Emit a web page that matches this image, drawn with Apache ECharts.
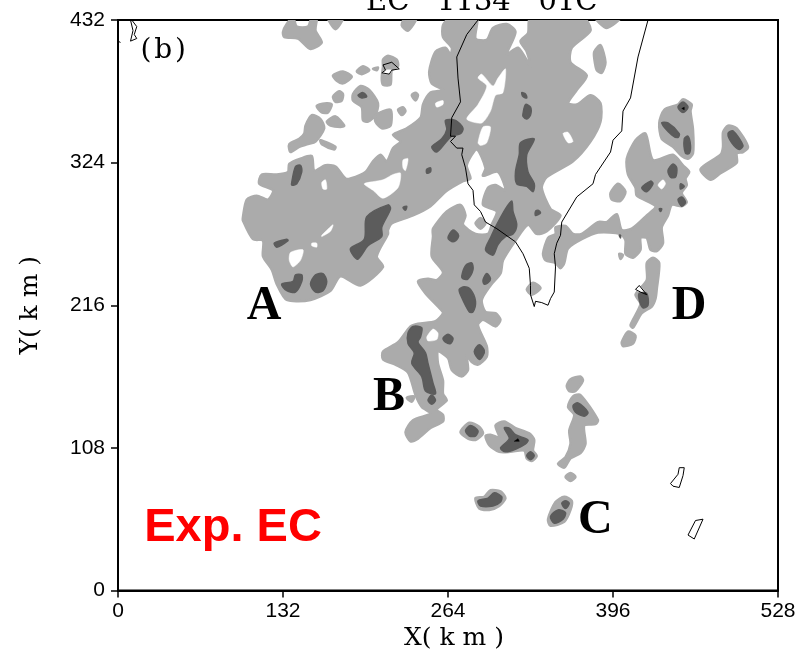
<!DOCTYPE html>
<html><head><meta charset="utf-8">
<style>html,body{margin:0;padding:0;background:#fff}#c{width:802px;height:654px}</style>
<script src="https://cdn.jsdelivr.net/npm/echarts@6/dist/echarts.min.js"></script>
</head><body><div id="c"></div>
<script>
const xTicks = [0,132,264,396,528];
const yTicks = [0,108,216,324,432];

// Rain-area contours, [x km, y km]
const lightAreas = [
 [[100,283],[103,296],[111,299],[120,296],[124,303],[113,308],[115,315],[127,315],[136,317],[137,323],[146,327],[155,329],[157,318],[166,322],[174,321],[182,312],[186,312],[198,317],[204,325],[210,330],[215,325],[220,335],[226,340],[220,345],[231,350],[242,358],[244,368],[250,377],[260,379],[251,384],[249,393],[254,408],[262,411],[266,406],[267,411],[260,419],[260,428],[266,434],[287,434],[286,418],[295,417],[300,426],[311,429],[318,423],[311,406],[320,411],[330,397],[327,408],[322,416],[328,422],[330,434],[372,434],[378,424],[363,411],[362,400],[375,390],[367,379],[360,369],[367,368],[378,375],[386,369],[386,355],[378,340],[364,325],[343,313],[339,305],[346,289],[354,284],[343,272],[335,270],[328,277],[318,265],[308,250],[306,240],[298,231],[291,220],[294,211],[302,210],[306,205],[302,200],[292,205],[288,201],[295,185],[295,177],[288,171],[283,173],[279,178],[280,167],[275,162],[267,167],[264,176],[256,181],[256,172],[260,159],[260,149],[263,144],[255,137],[260,133],[260,128],[250,123],[240,115],[234,113],[230,120],[236,129],[250,134],[243,139],[238,148],[232,165],[222,171],[212,175],[212,181],[224,188],[234,200],[240,202],[254,204],[260,210],[258,213],[246,225],[240,234],[248,236],[255,235],[260,241],[251,253],[252,268],[252,274],[263,287],[274,292],[278,284],[276,277],[286,270],[296,270],[299,277],[303,287],[292,292],[296,305],[302,307],[310,303],[304,317],[292,314],[294,320],[287,334],[279,322],[282,312],[276,310],[262,302],[250,291],[236,284],[219,278],[216,273],[216,270],[207,253],[212,245],[194,231],[178,238],[170,227],[154,220],[135,220],[127,232],[123,243],[116,253],[116,265],[108,266],[100,280]],
 [[286,278],[290,282],[294,278],[290,274]],
 [[231,146],[237,147],[235,143]],
 [[132,423],[135,429],[140,434],[143,427],[152,427],[155,434],[159,434],[158,424],[163,415],[154,410],[144,418],[133,419]],
 [[168,434],[180,434],[174,425]],
 [[172,390],[180,393],[187,389],[180,384],[175,386]],
 [[191,393],[196,397],[201,394],[195,391]],
 [[204,395],[208,396],[207,394]],
 [[212,402],[216,405],[223,402],[224,397],[219,394],[218,383],[212,383],[211,388],[212,397]],
 [[172,374],[177,378],[180,376],[179,371],[174,370]],
 [[188,376],[194,382],[201,379],[208,369],[206,360],[200,355],[196,356],[195,366],[188,371]],
 [[159,367],[167,369],[171,368],[168,362],[163,362]],
 [[167,355],[174,359],[181,352],[178,351],[170,352]],
 [[206,360],[218,364],[218,352],[211,350],[206,355]],
 [[224,364],[228,366],[230,363],[227,360]],
 [[235,375],[238,377],[240,375],[238,371]],
 [[150,352],[155,360],[162,357],[165,350],[158,340],[152,338],[145,336],[138,332],[137,338],[145,342],[149,346]],
 [[162,341],[174,336],[173,334],[163,338]],
 [[227,428],[230,434],[239,434],[232,424]],
 [[381,408],[386,413],[390,400],[387,392],[383,394],[381,403]],
 [[382,434],[402,434],[391,426]],
 [[340,255],[344,267],[350,270],[350,275],[358,276],[364,270],[371,270],[384,279],[391,279],[399,285],[403,273],[411,274],[423,284],[430,291],[415,299],[414,305],[408,315],[407,327],[414,341],[422,346],[428,326],[444,330],[452,322],[457,317],[454,312],[455,307],[451,301],[455,294],[451,291],[443,292],[440,284],[435,275],[436,263],[431,257],[426,258],[423,267],[418,267],[418,258],[412,252],[406,255],[406,265],[402,270],[384,271],[371,266],[360,259],[357,248],[354,244],[350,248],[342,250]],
 [[433,354],[437,364],[448,368],[452,372],[459,368],[458,363],[460,349],[460,331],[456,327],[451,329],[444,336],[435,342]],
 [[484,347],[488,352],[495,350],[504,336],[500,332],[495,331],[495,324],[482,316],[474,311],[466,319],[482,330],[484,336]],
 [[394,301],[400,308],[406,302],[402,295],[395,296]],
 [[401,255],[404,254],[402,251]],
 [[423,248],[428,252],[433,248],[431,228],[430,221],[427,215],[419,210],[412,199],[410,201],[418,217],[414,224],[423,235]],
 [[403,188],[408,196],[414,193],[412,187],[404,185]],
 [[327,228],[332,233],[338,229],[331,224]],
 [[274,120],[281,127],[289,124],[292,119],[286,114],[280,115]],
 [[294,117],[298,118],[305,116],[302,125],[309,128],[318,123],[329,119],[333,114],[332,106],[335,102],[331,98],[327,100],[325,106],[314,105],[305,105],[297,110]],
 [[286,70],[293,71],[298,76],[306,75],[310,70],[305,64],[297,61],[289,62]],
 [[344,54],[350,67],[357,71],[363,68],[362,61],[357,52],[346,49]],
 [[358,86],[362,89],[366,86],[362,83]],
 [[352,96],[358,101],[362,111],[361,121],[365,133],[360,139],[364,147],[370,148],[384,129],[382,126],[373,125],[374,111],[370,104],[362,100],[357,93]],
 [[359,155],[362,160],[370,162],[372,159],[366,151],[361,151]]
];
const clearGaps = [
 [[279,357],[288,368],[295,382],[288,388],[291,391],[300,382],[304,388],[310,395],[308,377],[302,375],[298,363],[291,354]],
 [[288,339],[292,351],[298,351],[295,339],[290,337]],
 [[356,346],[360,347],[364,340],[360,339]],
 [[254,369],[260,371],[260,368],[255,366]],
 [[197,308],[212,311],[220,315],[226,316],[224,305],[212,297],[204,303]],
 [[228,326],[232,327],[230,318],[228,320]],
 [[163,269],[172,277],[170,272],[163,268]],
 [[138,256],[148,258],[146,250],[140,245],[137,250]],
 [[155,263],[159,263],[159,260],[155,261]],
 [[163,309],[166,311],[167,304],[164,304]],
 [[247,192],[252,198],[256,195],[255,190],[248,189]],
 [[432,307],[436,311],[438,308],[435,304]],
 [[214,394],[219,394],[217,391],[211,392]],
 [[414,228],[417,231],[421,226],[418,226]]
];
const darkCores = [
 [[139,309],[142,321],[146,322],[147,317],[143,308],[139,307]],
 [[186,259],[197,266],[199,283],[216,292],[218,289],[211,275],[211,268],[200,261],[192,251],[188,254]],
 [[125,263],[135,266],[136,265],[127,260]],
 [[131,232],[140,234],[142,239],[147,239],[147,234],[142,226],[135,227]],
 [[154,232],[158,239],[164,240],[167,234],[164,227],[158,226]],
 [[192,375],[196,377],[199,374],[195,373]],
 [[251,336],[259,342],[263,349],[262,356],[270,356],[276,350],[274,346],[267,344],[262,339],[255,332]],
 [[247,319],[250,320],[250,317],[247,316]],
 [[324,361],[326,368],[330,366],[330,360],[327,357],[324,359]],
 [[323,377],[326,376],[327,373],[324,374]],
 [[322,339],[333,342],[327,330],[328,317],[333,308],[332,302],[327,306],[319,308],[318,317],[321,330]],
 [[310,289],[315,295],[316,287],[319,277],[316,270],[310,268],[304,262],[300,254],[294,258],[298,267],[303,277]],
 [[334,287],[336,288],[338,286],[334,284]],
 [[228,290],[231,291],[230,288]],
 [[264,267],[268,273],[272,270],[272,267],[268,264]],
 [[275,238],[278,246],[283,248],[284,243],[280,236],[276,236]],
 [[292,235],[295,240],[298,236],[296,233],[293,232]],
 [[273,228],[277,230],[282,228],[286,219],[284,211],[281,211],[274,224]],
 [[232,195],[236,200],[243,199],[242,192],[240,188],[246,180],[248,172],[252,157],[254,149],[246,151],[243,162],[235,172],[237,180],[232,187]],
 [[248,144],[251,148],[254,144],[251,141]],
 [[260,191],[264,194],[268,191],[266,187],[262,188]],
 [[285,181],[289,186],[293,182],[292,178],[289,175]],
 [[278,121],[282,125],[288,121],[286,117],[281,117]],
 [[309,123],[313,123],[318,118],[328,114],[326,111],[318,107],[310,105],[306,108],[313,115]],
 [[327,102],[330,105],[333,102],[330,99]],
 [[288,68],[296,70],[301,74],[307,71],[306,67],[300,64],[290,64]],
 [[346,56],[352,61],[358,59],[356,54],[349,51]],
 [[355,66],[358,68],[361,66],[358,62]],
 [[364,140],[368,142],[376,135],[373,132],[366,135]],
 [[448,366],[452,370],[456,366],[452,362]],
 [[435,354],[440,354],[449,346],[448,343],[443,345]],
 [[453,342],[456,344],[458,337],[457,331],[454,331]],
 [[440,318],[444,323],[447,320],[446,313],[442,313]],
 [[419,305],[426,310],[428,308],[423,302]],
 [[448,296],[451,298],[454,294],[451,291]],
 [[450,308],[453,306],[450,304]],
 [[433,289],[435,289],[434,287]],
 [[401,269],[402,269],[402,267]],
 [[417,225],[423,225],[424,216],[420,214],[417,220]],
 [[488,346],[492,348],[500,337],[497,334],[491,339]]
];
const blackCores = [
 [[317,113],[320,115],[321,113]],
 [[451,365],[453,366],[453,364]]
];
const coastLines = [
 [[288,432],[279,421],[271,404],[272,388],[274,370],[267,358],[266,344],[270,344],[266,340],[271,335],[276,335],[275,330],[278,320],[280,308],[284,303],[285,292],[290,287],[294,279],[303,274],[318,264],[324,255],[329,244],[330,231],[330,224],[333,215],[334,219],[339,218],[344,216],[346,221],[349,226],[350,245],[349,255],[351,263],[354,269],[355,279],[367,298],[380,308],[382,315],[394,332],[396,341],[403,348],[404,363],[410,373],[416,404],[424,432]],
 [[212,398],[219,400],[225,395],[219,394],[217,391],[211,392],[214,394],[212,398]],
 [[11,432],[15,427],[13,421],[15,418],[10,416],[12,424],[10,432]],
 [[0,416],[2,415]],
 [[442,81],[448,88],[449,93],[453,93],[452,87],[449,78],[444,79],[442,81]],
 [[456,42],[462,53],[468,54],[461,39],[456,42]],
 [[414,228],[417,231],[423,224],[418,226],[414,228]]
];
const letterNotes = [['A',103,215],['B',204,146],['C',368,53],['D',443,215]];
const smallNotes = [['(\u200ab\u200a)',18,409]];
const expNote = [['Exp. EC',21,47]];

function areaSeries(polys, color, z, smooth, grow){
  return {type:'custom', coordinateSystem:'cartesian2d', clip:true, silent:true, z:z,
    data:polys.map((p,i)=>[i]),
    renderItem:(params,api)=>{
      const pts=polys[api.value(0)].map(p=>api.coord(p));
      return {type:'polygon',shape:{points:pts,smooth:smooth},style:{fill:color,stroke:color,lineWidth:grow,lineJoin:'round'}};
    }};
}
function lineSeries(lines, z){
  return {type:'custom', coordinateSystem:'cartesian2d', clip:true, silent:true, z:z,
    data:lines.map((p,i)=>[i]),
    renderItem:(params,api)=>{
      const pts=lines[api.value(0)].map(p=>api.coord(p));
      return {type:'polyline',shape:{points:pts},style:{fill:null,stroke:'#000',lineWidth:1}};
    }};
}
function textSeries(notes, font, color, z){
  return {type:'custom', coordinateSystem:'cartesian2d', clip:false, silent:true, z:z,
    data:notes.map((n,i)=>[i]),
    renderItem:(params,api)=>{
      const n=notes[api.value(0)], c=api.coord([n[1],n[2]]);
      return {type:'text',style:{text:n[0],x:c[0],y:c[1],font:font,fill:color,textAlign:'left',textVerticalAlign:'middle'}};
    }};
}
const tickFont={fontFamily:'Liberation Sans',fontSize:21,color:'#000'};
const serif='"DejaVu Serif"';
const chart=echarts.init(document.getElementById('c'),null,{renderer:'canvas'});
chart.setOption({
  animation:false,
  backgroundColor:'#fff',
  title:{text:'EC   1134   01C',left:361,top:-17,textStyle:{fontFamily:serif,fontWeight:'normal',fontSize:29,color:'#000'}},
  grid:{left:118,right:24,top:20,bottom:63.5,outerBoundsMode:'none',show:true,borderColor:'#000',borderWidth:2,backgroundColor:'transparent'},
  xAxis:{type:'value',min:0,max:528,interval:132,name:'X( k m )',nameLocation:'middle',nameGap:34,
    nameTextStyle:{fontFamily:serif,fontSize:25,color:'#000',padding:[0,0,0,12]},
    axisLine:{onZero:false,lineStyle:{color:'#000',width:2}},axisTick:{length:7,lineStyle:{color:'#000',width:1.5}},
    axisLabel:Object.assign({margin:10,formatter:v=>xTicks.includes(v)?String(v):''},tickFont),splitLine:{show:false}},
  yAxis:{type:'value',min:0,max:432,interval:108,name:'Y( k m )',nameLocation:'middle',nameGap:75,
    nameTextStyle:{fontFamily:serif,fontSize:25,color:'#000'},
    axisLine:{onZero:false,lineStyle:{color:'#000',width:2}},axisTick:{length:7,lineStyle:{color:'#000',width:1.5}},
    axisLabel:Object.assign({margin:13,formatter:v=>yTicks.includes(v)?String(v):''},tickFont),splitLine:{show:false}},
  series:[
    areaSeries(lightAreas,'#ababab',2,0.25,2.5),
    areaSeries(clearGaps,'#ffffff',3,0.25,0.5),
    areaSeries(darkCores,'#5c5c5c',4,0.3,1.5),
    areaSeries(blackCores,'#000000',5,0,0.5),
    lineSeries(coastLines,6),
    textSeries(letterNotes,'bold 48px "Liberation Serif"','#000',7),
    textSeries(smallNotes,'28px "DejaVu Serif"','#000',7),
    textSeries(expNote,'bold 47px "Liberation Sans"','#ff0000',7)
  ]
});
</script></body></html>
